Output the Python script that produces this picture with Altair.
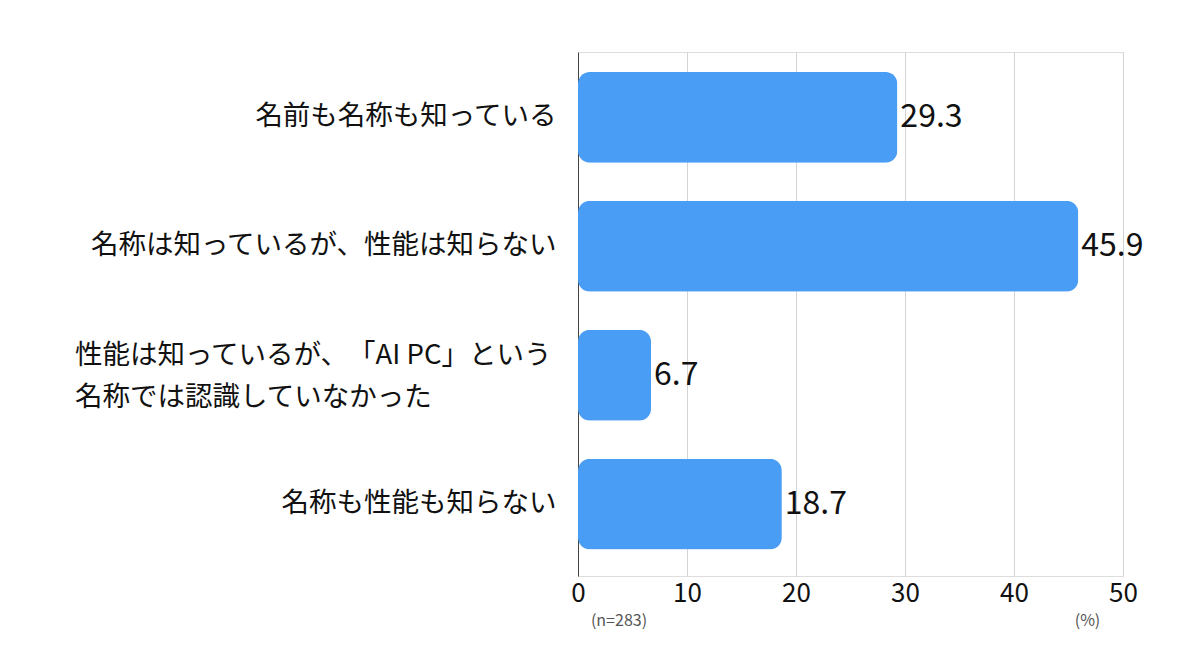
import altair as alt
import pandas as pd

categories = [
    "名前も名称も知っている",
    "名称は知っているが、性能は知らない",
    "性能は知っているが、\u2060「AI PC」という\n名称では認識していなかった",
    "名称も性能も知らない",
]
values = [29.3, 45.9, 6.7, 18.7]
x_ticks = [0, 10, 20, 30, 40, 50]
sample_note = "(n=283)"
unit_note = "(%)"

FONT = "Noto Sans CJK JP"
df = pd.DataFrame({"cat": categories, "val": values})
df_multi = df[df["cat"].str.contains("AI PC")]

x_enc = alt.X(
    "val:Q",
    scale=alt.Scale(domain=[0, 50], nice=False),
    axis=alt.Axis(
        values=x_ticks, title=unit_note, titleX=509, titleY=36, titleAlign="center",
        titleFontSize=16, titleFontWeight="normal", titleColor="#555555", titleFont=FONT,
        labelFontSize=26, labelFont=FONT, labelColor="#111111", labelPadding=4,
        labelFlush=False,
        domain=False, ticks=False, grid=True, gridColor="#d4d4d4", gridWidth=1,
    ),
)
y_enc = alt.Y(
    "cat:N", sort=None,
    scale=alt.Scale(paddingInner=0.295, paddingOuter=0.18, align=0.43),
    axis=alt.Axis(
        title=None, labelFontSize=27.5, labelFont=FONT, labelColor="#111111",
        labelPadding=22, labelLimit=0, ticks=False, domain=True,
        domainColor="#444444", domainWidth=1,
        labelExpr="indexof(datum.label, 'AI PC') >= 0 ? '' : datum.label",
    ),
)

bars = alt.Chart(df).mark_bar(color="#4A9DF5", cornerRadius=12).encode(x=x_enc, y=y_enc)
labels = alt.Chart(df).mark_text(
    align="left", baseline="middle", dx=3, fontSize=32, font=FONT, color="#111111"
).encode(x="val:Q", y=alt.Y("cat:N", sort=None), text=alt.Text("val:Q", format=".1f"))

multi_label = alt.Chart(df_multi).mark_text(
    align="left", baseline="middle", fontSize=27.5, font=FONT, color="#111111",
    lineBreak="\n", lineHeight=42, dy=-19,
).encode(x=alt.value(-503), y=alt.Y("cat:N", sort=None), text="cat:N")

note = alt.Chart(pd.DataFrame({"t": [sample_note]})).mark_text(
    align="center", baseline="middle", fontSize=16, font=FONT, color="#555555"
).encode(x=alt.value(41), y=alt.value(569), text="t:N")

chart = alt.layer(bars, labels, multi_label, note).properties(
    width=545, height=524,
    autosize=alt.AutoSizeParams(type="none"),
    padding={"left": 570, "top": 44, "right": 60, "bottom": 70},
).configure_view(stroke=None).configure(background="white")

chart.save("out.html", embed_options={"renderer": "svg", "actions": False})
